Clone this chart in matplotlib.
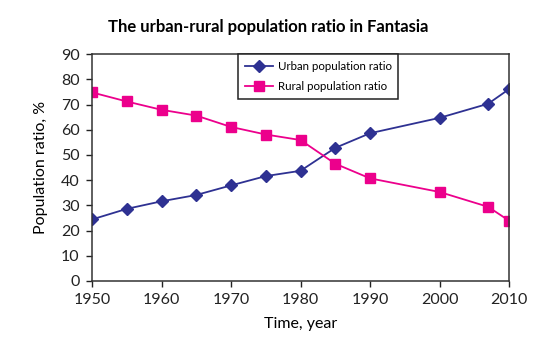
import matplotlib
matplotlib.use("Agg")
import matplotlib.pyplot as plt

# population split by year, in percent
years = [1950, 1955, 1960, 1965, 1970, 1975, 1980, 1985, 1990, 2000, 2007, 2010]
urban = [24.4, 28.6, 31.6, 34.1, 37.9, 41.6, 43.7, 52.8, 58.6, 64.7, 70.3, 76.1]
rural = [74.8, 71.2, 67.9, 65.6, 61.1, 58.1, 55.9, 46.5, 40.7, 35.3, 29.4, 23.9]

plt.rcParams['font.family'] = ['Lato', 'DejaVu Sans']

fig = plt.figure(figsize=(5.59, 3.49), dpi=100)
ax = fig.add_axes([0.1646, 0.195, 0.746, 0.650])

ax.plot(years, urban, color='#2e3192', marker='D', markersize=6, linewidth=1.3,
        label='Urban population ratio')
ax.plot(years, rural, color='#ec008c', marker='s', markersize=6.5, linewidth=1.3,
        label='Rural population ratio')

ax.set_xlim(1950, 2010)
ax.set_ylim(0, 90)
ax.set_xticks(range(1950, 2011, 10))
ax.set_yticks(range(0, 91, 10))
ax.tick_params(direction='out', length=4, width=1, labelsize=11.5, colors='#222222', pad=5)
for s in ax.spines.values():
    s.set_linewidth(1.1)
    s.set_color('#333333')

ax.set_xlabel('Time, year', fontsize=11.5, labelpad=7)
ax.set_ylabel('Population ratio, %', fontsize=11.5, labelpad=9)
fig.suptitle('The urban-rural population ratio in Fantasia', fontsize=12,
             fontweight='bold', x=0.48, y=0.945)

leg = ax.legend(loc='upper left', bbox_to_anchor=(0.351, 1.0), fancybox=False,
                edgecolor='#222222', framealpha=1, borderaxespad=0,
                prop={'size': 8.3}, handlelength=2.4, handletextpad=0.4,
                borderpad=0.6, labelspacing=0.8)
leg.get_frame().set_linewidth(1.1)

fig.savefig('out.png', dpi=100)
